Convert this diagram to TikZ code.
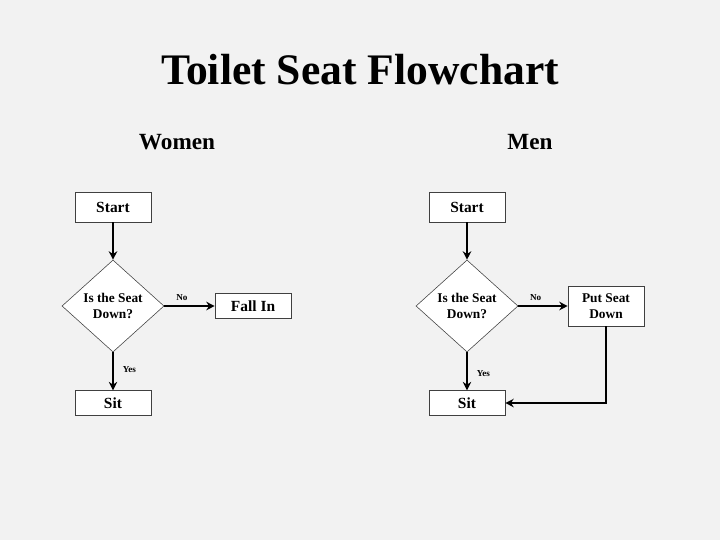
\documentclass[tikz,border=0pt]{standalone}
\usepackage{fontspec}
\setmainfont{Liberation Serif}
\usetikzlibrary{shapes.geometric,arrows.meta}
\begin{document}
\begin{tikzpicture}[x=0.025cm, y=-0.025cm]
        % Define block styles
        \tikzstyle{block} = [rectangle, draw=black!75, fill=white, font=\bfseries\fontsize{11}{12}\selectfont, minimum width=1.9cm, inner sep=2pt]
        \tikzstyle{decision} = [diamond, draw=black!75, fill=white, font=\bfseries\fontsize{9.5}{11}\selectfont, align=center, minimum width=2.55cm, minimum height=2.3cm, inner sep=0pt]
        \tikzstyle{tag} = [font=\bfseries\fontsize{6.5}{7}\selectfont]
        \tikzstyle{line} = [draw, line width=1.3pt, -{Stealth[length=6pt,width=6pt]}]

        \fill[black!5] (0,0) rectangle (720,540);
        \node[font=\bfseries\fontsize{31}{36}\selectfont] (title) at (360,70) {Toilet Seat Flowchart};
        \node[font=\bfseries\fontsize{16.5}{18}\selectfont] (women) at (177,142) {Women};
        \node[font=\bfseries\fontsize{16.5}{18}\selectfont] (men) at (530,142) {Men};

        % Women
        \node [block, minimum height=0.75cm] (start1) at (113,207) {Start};
        \node [decision] (seat1) at (113,306) {Is the Seat\\Down?};
        \node [block, minimum height=0.62cm] (fall1) at (253,306) {Fall In};
        \node [block, minimum height=0.62cm] (sit1) at (113,403) {Sit};
        \path [line] (start1) -- (seat1);
        \path [line] (seat1) -- node[tag, above, pos=0.35] {No} (fall1);
        \path [line] (seat1) -- node[tag, right=3pt, pos=0.45] {Yes} (sit1);

        % Men
        \node [block, minimum height=0.75cm] (start2) at (467,207) {Start};
        \node [block, minimum height=1cm, align=center, font=\bfseries\fontsize{9.5}{11}\selectfont] (put2) at (606,306) {Put Seat\\Down};
        \node [decision] (seat2) at (467,306) {Is the Seat\\Down?};
        \node [block, minimum height=0.62cm] (sit2) at (467,403) {Sit};
        \path [line] (start2) -- (seat2);
        \path [line] (seat2) -- node[tag, above, pos=0.35] {No} (put2);
        \path [line] (seat2) -- node[tag, right=3pt, pos=0.55] {Yes} (sit2);
        \path [line] (put2) |- (sit2);
\end{tikzpicture}
\end{document}
